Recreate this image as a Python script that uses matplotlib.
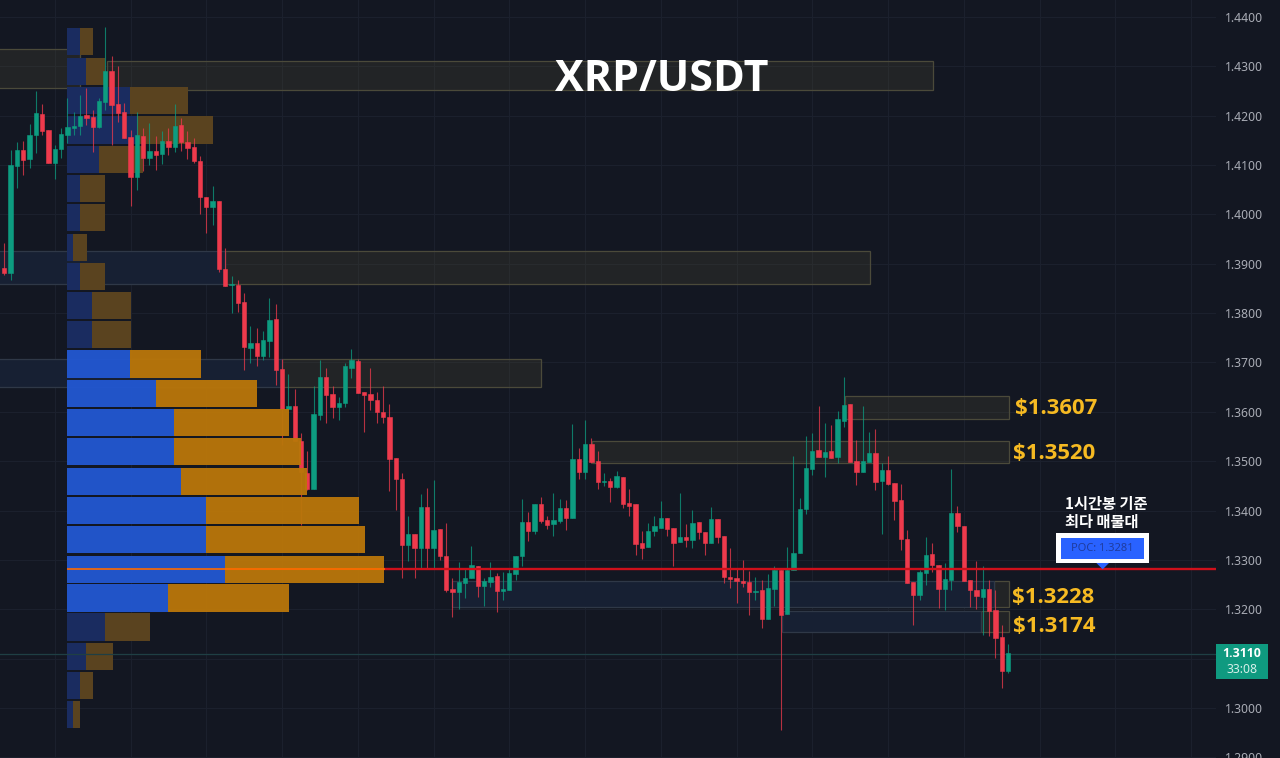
import numpy as np
import matplotlib
matplotlib.use("Agg")
import matplotlib.pyplot as plt
from matplotlib.patches import Rectangle, Polygon
from matplotlib.transforms import blended_transform_factory

opens = [1.3891,1.3881,1.4099,1.4131,1.4112,1.4160,1.4203,1.4171,1.4104,1.4132,
         1.4161,1.4176,1.4179,1.4201,1.4198,1.4178,1.4227,1.4291,1.4224,1.4207,
         1.4156,1.4075,1.4159,1.4115,1.4129,1.4122,1.4148,1.4136,1.4181,1.4147,
         1.4136,1.4108,1.4035,1.4016,1.4027,1.3889,1.3856,1.3857,1.3822,1.3730,
         1.3739,1.3714,1.3743,1.3788,1.3687,1.3606,1.3612,1.3541,1.3476,1.3444,
         1.3594,1.3670,1.3637,1.3609,1.3618,1.3689,1.3704,1.3641,1.3636,1.3624,
         1.3600,1.3590,1.3506,1.3464,1.3331,1.3352,1.3325,1.3407,1.3324,1.3363,
         1.3308,1.3241,1.3236,1.3254,1.3263,1.3288,1.3248,1.3256,1.3268,1.3237,
         1.3240,1.3271,1.3308,1.3377,1.3358,1.3413,1.3381,1.3372,1.3379,1.3405,
         1.3385,1.3505,1.3478,1.3535,1.3500,1.3458,1.3459,1.3448,1.3469,1.3416,
         1.3413,1.3334,1.3327,1.3358,1.3365,1.3385,1.3364,1.3337,1.3347,1.3341,
         1.3376,1.3357,1.3335,1.3383,1.3349,1.3265,1.3263,1.3258,1.3255,1.3236,
         1.3240,1.3181,1.3242,1.3280,1.3190,1.3279,1.3315,1.3403,1.3485,1.3522,
         1.3508,1.3520,1.3508,1.3582,1.3615,1.3500,1.3479,1.3499,1.3516,1.3460,
         1.3483,1.3455,1.3422,1.3343,1.3255,1.3229,1.3273,1.3311,1.3289,1.3242,
         1.3260,1.3395,1.3368,1.3260,1.3240,1.3225,1.3242,1.3198,1.3143,1.3074]
highs = [1.3942,1.4131,1.4146,1.4148,1.4183,1.4251,1.4224,1.4171,1.4141,1.4175,
         1.4235,1.4208,1.4242,1.4256,1.4212,1.4235,1.4380,1.4321,1.4300,1.4225,
         1.4171,1.4208,1.4175,1.4186,1.4158,1.4168,1.4175,1.4224,1.4196,1.4168,
         1.4154,1.4119,1.4035,1.4058,1.4027,1.3932,1.3876,1.3867,1.3841,1.3773,
         1.3770,1.3763,1.3830,1.3819,1.3707,1.3676,1.3646,1.3557,1.3520,1.3652,
         1.3706,1.3689,1.3652,1.3631,1.3699,1.3728,1.3707,1.3641,1.3689,1.3641,
         1.3652,1.3616,1.3506,1.3476,1.3390,1.3352,1.3433,1.3446,1.3461,1.3363,
         1.3374,1.3263,1.3295,1.3283,1.3329,1.3288,1.3263,1.3295,1.3273,1.3275,
         1.3281,1.3308,1.3423,1.3398,1.3413,1.3428,1.3388,1.3435,1.3423,1.3422,
         1.3576,1.3526,1.3584,1.3547,1.3520,1.3476,1.3466,1.3481,1.3469,1.3443,
         1.3413,1.3358,1.3374,1.3389,1.3420,1.3385,1.3364,1.3435,1.3373,1.3401,
         1.3376,1.3357,1.3407,1.3383,1.3349,1.3325,1.3283,1.3299,1.3277,1.3265,
         1.3260,1.3272,1.3287,1.3280,1.3327,1.3510,1.3425,1.3552,1.3557,1.3611,
         1.3577,1.3574,1.3601,1.3670,1.3615,1.3543,1.3611,1.3560,1.3566,1.3496,
         1.3510,1.3455,1.3453,1.3361,1.3255,1.3280,1.3347,1.3334,1.3289,1.3293,
         1.3485,1.3410,1.3368,1.3260,1.3297,1.3287,1.3260,1.3240,1.3169,1.3130]
lows = [1.3878,1.3867,1.4053,1.4080,1.4095,1.4124,1.4160,1.4104,1.4071,1.4114,
        1.4144,1.4161,1.4161,1.4181,1.4127,1.4175,1.4212,1.4141,1.4188,1.4154,
        1.4017,1.4050,1.4087,1.4100,1.4090,1.4102,1.4121,1.4127,1.4129,1.4112,
        1.4105,1.4000,1.3963,1.3979,1.3884,1.3854,1.3800,1.3803,1.3684,1.3699,
        1.3692,1.3706,1.3712,1.3655,1.3533,1.3606,1.3540,1.3371,1.3442,1.3444,
        1.3584,1.3577,1.3587,1.3584,1.3609,1.3668,1.3638,1.3560,1.3604,1.3577,
        1.3577,1.3439,1.3402,1.3263,1.3297,1.3263,1.3284,1.3284,1.3284,1.3300,
        1.3236,1.3185,1.3201,1.3223,1.3263,1.3225,1.3206,1.3246,1.3194,1.3219,
        1.3240,1.3260,1.3287,1.3339,1.3353,1.3374,1.3362,1.3349,1.3374,1.3361,
        1.3385,1.3464,1.3464,1.3496,1.3444,1.3450,1.3418,1.3445,1.3405,1.3389,
        1.3310,1.3302,1.3327,1.3349,1.3365,1.3349,1.3287,1.3337,1.3327,1.3324,
        1.3342,1.3310,1.3335,1.3335,1.3253,1.3243,1.3212,1.3246,1.3189,1.3218,
        1.3162,1.3181,1.3206,1.2955,1.3190,1.3279,1.3315,1.3393,1.3472,1.3508,
        1.3469,1.3507,1.3496,1.3570,1.3499,1.3451,1.3479,1.3499,1.3442,1.3352,
        1.3452,1.3381,1.3320,1.3253,1.3169,1.3218,1.3250,1.3276,1.3202,1.3199,
        1.3240,1.3356,1.3258,1.3204,1.3200,1.3148,1.3145,1.3101,1.3040,1.3071]
closes = [1.3881,1.4100,1.4131,1.4110,1.4161,1.4205,1.4169,1.4104,1.4132,1.4162,
          1.4178,1.4179,1.4200,1.4196,1.4178,1.4229,1.4291,1.4222,1.4205,1.4154,
          1.4075,1.4160,1.4115,1.4129,1.4120,1.4148,1.4136,1.4180,1.4146,1.4135,
          1.4108,1.4036,1.4016,1.4027,1.3889,1.3855,1.3860,1.3820,1.3731,1.3739,
          1.3714,1.3746,1.3786,1.3685,1.3606,1.3612,1.3541,1.3479,1.3444,1.3596,
          1.3670,1.3635,1.3609,1.3618,1.3692,1.3706,1.3639,1.3634,1.3623,1.3600,
          1.3590,1.3505,1.3463,1.3330,1.3352,1.3325,1.3408,1.3324,1.3361,1.3307,
          1.3240,1.3236,1.3255,1.3263,1.3289,1.3248,1.3258,1.3266,1.3237,1.3241,
          1.3273,1.3308,1.3376,1.3359,1.3413,1.3379,1.3371,1.3381,1.3405,1.3385,
          1.3505,1.3478,1.3535,1.3498,1.3458,1.3460,1.3448,1.3471,1.3413,1.3410,
          1.3333,1.3325,1.3358,1.3368,1.3385,1.3362,1.3335,1.3346,1.3341,1.3374,
          1.3356,1.3335,1.3383,1.3346,1.3266,1.3262,1.3258,1.3253,1.3235,1.3237,
          1.3181,1.3243,1.3280,1.3189,1.3280,1.3315,1.3404,1.3487,1.3521,1.3508,
          1.3519,1.3507,1.3585,1.3613,1.3499,1.3479,1.3500,1.3516,1.3458,1.3483,
          1.3453,1.3420,1.3342,1.3254,1.3229,1.3275,1.3310,1.3289,1.3242,1.3261,
          1.3395,1.3368,1.3258,1.3239,1.3226,1.3242,1.3196,1.3142,1.3074,1.3111]

profile_price = [1.2986,1.3045,1.3104,1.3164,1.3223,1.3281,1.3341,1.3400,1.3459,1.3519,
                 1.3578,1.3637,1.3697,1.3756,1.3815,1.3874,1.3933,1.3993,1.4052,1.4111,
                 1.4171,1.4230,1.4289,1.4350]
profile_buy = [5.5,12.5,18.5,37.5,100.5,157.5,138.5,138.5,113.5,106.5,
               106.5,88.5,62.5,24.5,24.5,12.5,5.5,12.5,12.5,31.5,
               69.5,62.5,18.5,12.5]
profile_sell = [7,13,27,45,121,159,159,153,126,127,
                115,101,71,39,39,25,14,25,25,44,
                76,58,19,13]
value_area = [False]*4 + [True]*9 + [False]*11

zone_start = [-1,16.3,35,44,133.2,93.1,156.8,154.7]
zone_end = [12,147.1,137.1,85,159.2,159.2,159.2,159.2]
zone_low = [1.4256,1.4252,1.3859,1.3650,1.3586,1.3496,1.3205,1.3154]
zone_high = [1.4335,1.4311,1.3926,1.3707,1.3632,1.3541,1.3257,1.3196]
support_start = [-1,-1,71,123.2]
support_end = [35,44,156.8,154.7]
support_low = [1.3859,1.3650,1.3205,1.3154]
support_high = [1.3926,1.3707,1.3257,1.3196]

level_labels = ["$1.3607","$1.3520","$1.3228","$1.3174"]
level_x = [160.1,159.8,159.6,159.8]
level_y = [1.3606,1.3515,1.3223,1.3165]
tick_prices = [1.29,1.30,1.31,1.32,1.33,1.34,1.35,1.36,1.37,1.38,1.39,1.40,1.41,1.42,1.43,1.44]
tick_labels = ["1.2900","1.3000","","1.3200","1.3300","1.3400","1.3500","1.3600","1.3700",
               "1.3800","1.3900","1.4000","1.4100","1.4200","1.4300","1.4400"]
poc = 1.3281
last_price = 1.3110

BG = "#131722"
UP = "#0d9c80"
DOWN = "#ee3a4c"
BOLD = "Open Sans"

fig = plt.figure(figsize=(12.8, 7.58), dpi=100, facecolor=BG)
ax = fig.add_axes([0, 0, 1216/1280, 1])
ax.set_facecolor(BG)
for s in ax.spines.values():
    s.set_visible(False)
ax.set_xticks(np.arange(8, 189, 12))
ax.set_xticklabels([])
ax.set_yticks(tick_prices)
ax.set_yticklabels(tick_labels, fontsize=8.8, color="#a9acb5", fontfamily="Noto Sans")
ax.set_xlim(-0.68, 191.95)
ax.set_ylim(1.28987, 1.44344)
ax.tick_params(axis="both", length=0)
ax.tick_params(axis="y", left=False, labelleft=False, right=False, labelright=True, pad=6.5)
ax.grid(True, color="#1b202d", lw=0.8, zorder=0)
ax.set_axisbelow(True)

# zones
for a, b, lo, hi in zip(zone_start, zone_end, zone_low, zone_high):
    ax.add_patch(Rectangle((a, lo), b - a, hi - lo, fc="#4f4d33", alpha=0.25, ec="none", zorder=1.5))
    ax.add_patch(Rectangle((a, lo), b - a, hi - lo, fc="none", ec="#4b4a3a", lw=0.9, zorder=1.6))
for a, b, lo, hi in zip(support_start, support_end, support_low, support_high):
    ax.add_patch(Rectangle((a, lo), b - a, hi - lo, fc="#172033", ec="none", zorder=1.7))
    ax.add_patch(Rectangle((a, lo), b - a, hi - lo, fc="none", ec="#2f3847", lw=0.9, zorder=1.8))

# volume profile
bars_per_unit = 1 / 6.313
left = 10.0
for p, b, s, va in zip(profile_price, profile_buy, profile_sell, value_area):
    w1, w2 = b * bars_per_unit, s * bars_per_unit
    if va:
        ax.barh(p, w1, left=left, height=0.0055, color="#2257d0", alpha=0.96, zorder=5)
        ax.barh(p, w2, left=left + w1, height=0.0055, color="#b9760a", alpha=0.96, zorder=5)
    else:
        ax.barh(p, w1, left=left, height=0.0055, color="#1a2c60", zorder=1.9)
        ax.barh(p, w2, left=left + w1, height=0.0055, color="#5a431f", zorder=1.9)

# last price line and POC line
ax.hlines(last_price, -1, 192, color="#1f3f44", lw=0.9, zorder=2)
ax.hlines(poc, 10, 192, color="#cf101b", lw=1.7, zorder=4)
ax.hlines(poc, 10, 60.3, color="#ff6a00", lw=1.4, alpha=0.85, zorder=6)

# candles
idx = np.arange(len(opens))
o, h, l, c = map(np.array, (opens, highs, lows, closes))
colors = np.where(c >= o, UP, DOWN)
ax.vlines(idx, l, h, colors=colors, lw=0.8, alpha=0.75, zorder=3)
ax.bar(idx, np.abs(c - o), bottom=np.minimum(o, c), width=0.68, color=colors,
       edgecolor=colors, lw=0.4, zorder=3.2)

# labels
ax.text(104.2, 1.4273, "XRP/USDT", color="white", fontsize=31, fontweight="bold",
        fontfamily=BOLD, ha="center", va="center", zorder=8)
for t, x, y in zip(level_labels, level_x, level_y):
    ax.text(x, y, t, color="#f6ba22", fontsize=15.9, fontweight="bold",
            fontfamily=BOLD, ha="left", va="center", zorder=8)
for t, y in zip(["1시간봉 기준", "최다 매물대"], [1.3413, 1.3377]):
    ax.text(168, y, t, color="white", fontsize=11, fontweight="bold",
            fontfamily=["Noto Sans CJK KR", "DejaVu Sans"], ha="left", va="center", zorder=8)

# POC label
ax.add_patch(Rectangle((166.6, 1.32938), 14.7, 0.00608, fc="white", ec="none", zorder=7))
ax.add_patch(Rectangle((167.4, 1.33019), 13.1, 0.00425, fc="#2962ff", ec="none", zorder=7.1))
ax.add_patch(Polygon([(173, 1.32938), (175, 1.32938), (174, poc)], closed=True, fc="#2962ff", ec="none", zorder=7.1))
ax.text(174, 1.3323, "POC: 1.3281", color="#1f3c9e", fontsize=8, fontfamily="Noto Sans",
        ha="center", va="center", zorder=7.2)

# current price tag
tr = blended_transform_factory(ax.transAxes, ax.transData)
ax.add_patch(Rectangle((1.0, 1.3059), 52/1216, 0.0071, transform=tr, fc="#0f9a80", ec="none",
                       clip_on=False, zorder=8))
ax.text(1 + 26/1216, 1.3110, "1.3110", transform=tr, color="white", fontsize=8.8, fontweight="bold",
        fontfamily=BOLD, ha="center", va="center", clip_on=False, zorder=9)
ax.text(1 + 26/1216, 1.3079, "33:08", transform=tr, color="#d5efe9", fontsize=8.8,
        fontfamily="Noto Sans", ha="center", va="center", clip_on=False, zorder=9)

fig.savefig("out.png", dpi=100, facecolor=BG)
